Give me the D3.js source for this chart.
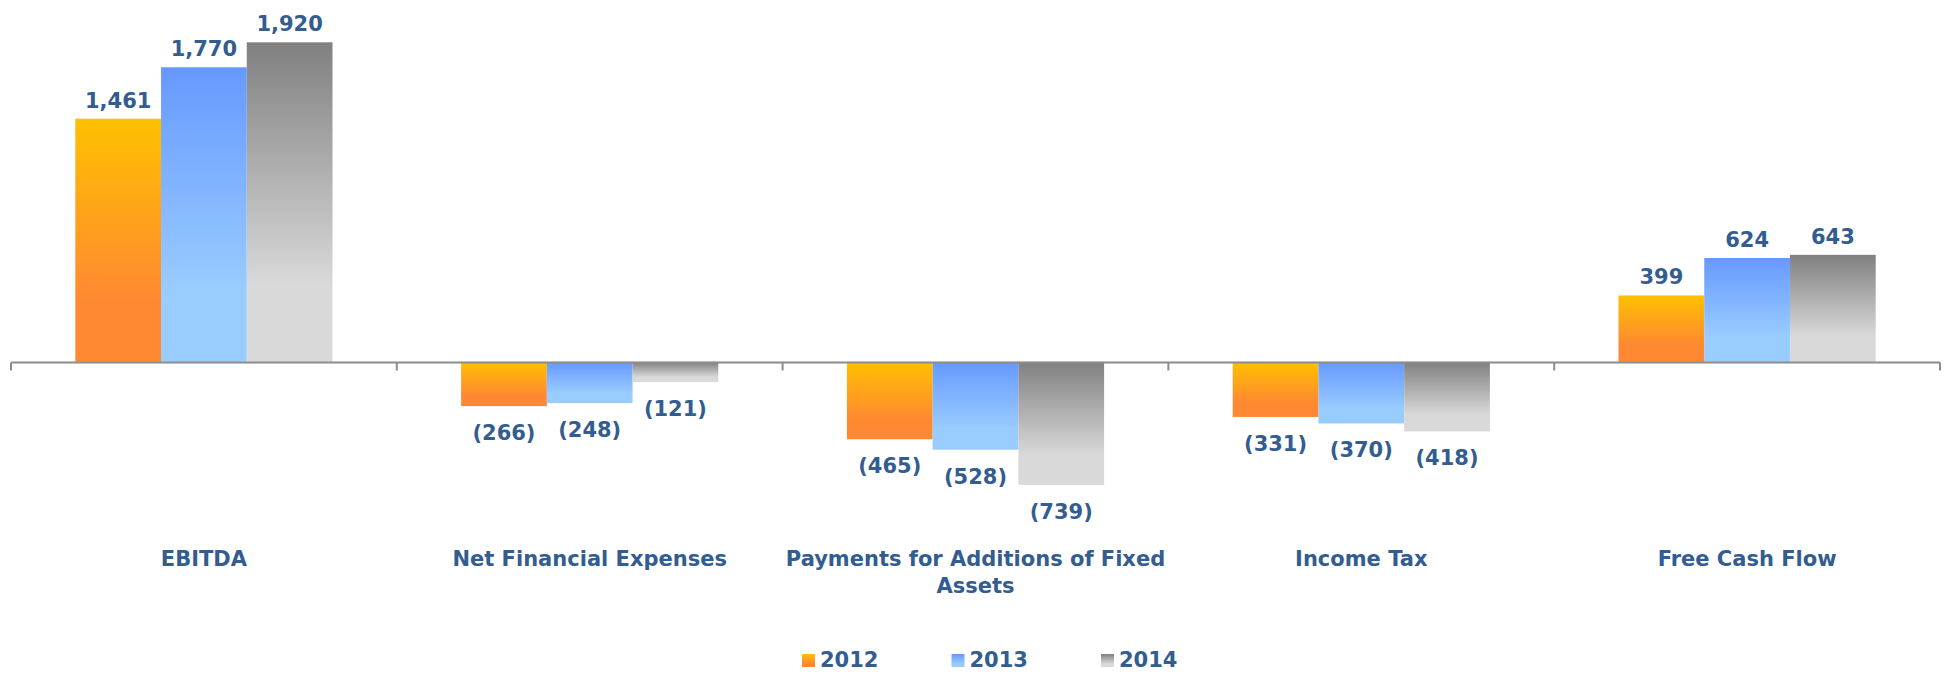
<!DOCTYPE html>
<html>
<head>
<meta charset="utf-8">
<script src="https://cdn.jsdelivr.net/npm/d3@7/dist/d3.min.js"></script>
<style>
  html, body { margin: 0; padding: 0; background: #ffffff; }
  svg { display: block; font-family: "DejaVu Sans", Verdana, sans-serif; }
</style>
</head>
<body>
<svg id="chart" width="1949" height="673"></svg>
<script>
const categories = ["EBITDA", "Net Financial Expenses", "Payments for Additions of Fixed Assets", "Income Tax", "Free Cash Flow"];
const seriesNames = ["2012", "2013", "2014"];
const values2012 = [1461, -266, -465, -331, 399];
const values2013 = [1770, -248, -528, -370, 624];
const values2014 = [1920, -121, -739, -418, 643];
const seriesValues = [values2012, values2013, values2014];

const gradients = [
  { id: "g2012", top: "#FFC000", bottom: "#FF8833" },
  { id: "g2013", top: "#6699FF", bottom: "#99CCFF" },
  { id: "g2014", top: "#808080", bottom: "#D9D9D9" }
];
const textColor = "#335C91";
const axisColor = "#8C8C8C";

const svg = d3.select("#chart");
const defs = svg.append("defs");
gradients.forEach(g => {
  const lg = defs.append("linearGradient").attr("id", g.id)
    .attr("x1", 0).attr("y1", 0).attr("x2", 0).attr("y2", 1);
  lg.append("stop").attr("offset", "0%").attr("stop-color", g.top);
  lg.append("stop").attr("offset", "76%").attr("stop-color", g.bottom);
  lg.append("stop").attr("offset", "100%").attr("stop-color", g.bottom);
});

const x0 = d3.scaleBand().domain(categories).range([11, 1940]).paddingInner(0).paddingOuter(0);
const x1 = d3.scaleBand().domain(seriesNames).range([0, x0.bandwidth()]).paddingInner(0).paddingOuter(0.75);
const y = d3.scaleLinear().domain([-800, 2000]).range([495, 29]);

const data = [];
categories.forEach((c, i) => {
  seriesNames.forEach((s, j) => {
    data.push({ cat: c, series: s, idx: j, value: seriesValues[j][i] });
  });
});

const fmt = v => v < 0 ? "(" + d3.format(",")(-v) + ")" : d3.format(",")(v);

// bars
svg.append("g").selectAll("rect").data(data).join("rect")
  .attr("x", d => x0(d.cat) + x1(d.series))
  .attr("width", x1.bandwidth())
  .attr("y", d => Math.min(y(d.value), y(0)))
  .attr("height", d => Math.abs(y(d.value) - y(0)))
  .attr("fill", d => "url(#" + gradients[d.idx].id + ")");

// axis line + ticks
const axisG = svg.append("g").attr("stroke", axisColor).attr("stroke-width", 2).attr("fill", "none");
const y0 = Math.round(y(0)) + 0.5;
axisG.append("line").attr("x1", x0.range()[0]).attr("x2", x0.range()[1]).attr("y1", y0).attr("y2", y0);
const tickXs = categories.map(c => x0(c)).concat([x0.range()[1]]);
axisG.selectAll("line.tick").data(tickXs).join("line").attr("class", "tick")
  .attr("x1", d => d).attr("x2", d => d).attr("y1", y0).attr("y2", y0 + 8);

// value labels
svg.append("g").selectAll("text").data(data).join("text")
  .attr("x", d => x0(d.cat) + x1(d.series) + x1.bandwidth() / 2)
  .attr("y", d => d.value >= 0 ? y(d.value) - 11 : y(d.value) + 34)
  .attr("text-anchor", "middle")
  .attr("font-size", 21).attr("font-weight", "bold")
  .attr("fill", textColor)
  .text(d => fmt(d.value));

// category labels with wrapping
const catG = svg.append("g");
categories.forEach(c => {
  const t = catG.append("text")
    .attr("x", x0(c) + x0.bandwidth() / 2).attr("y", 566)
    .attr("text-anchor", "middle").attr("font-size", 21).attr("font-weight", "bold")
    .attr("fill", textColor);
  const words = c.split(" ");
  let line = [];
  let tspan = t.append("tspan").attr("x", x0(c) + x0.bandwidth() / 2).attr("dy", 0);
  words.forEach(w => {
    line.push(w);
    tspan.text(line.join(" "));
    if (tspan.node().getComputedTextLength() > x0.bandwidth() - 4 && line.length > 1) {
      line.pop();
      tspan.text(line.join(" "));
      line = [w];
      tspan = t.append("tspan").attr("x", x0(c) + x0.bandwidth() / 2).attr("dy", 27).text(w);
    }
  });
});

// legend
const legend = svg.append("g").attr("transform", "translate(802,654)");
const li = legend.selectAll("g").data(seriesNames).join("g")
  .attr("transform", (d, i) => "translate(" + (i * 149.5) + ",0)");
li.append("rect").attr("width", 13).attr("height", 13)
  .attr("fill", (d, i) => "url(#" + gradients[i].id + ")");
li.append("text").attr("x", 18).attr("y", 13)
  .attr("font-size", 21).attr("font-weight", "bold").attr("fill", textColor)
  .text(d => d);
</script>
</body>
</html>
